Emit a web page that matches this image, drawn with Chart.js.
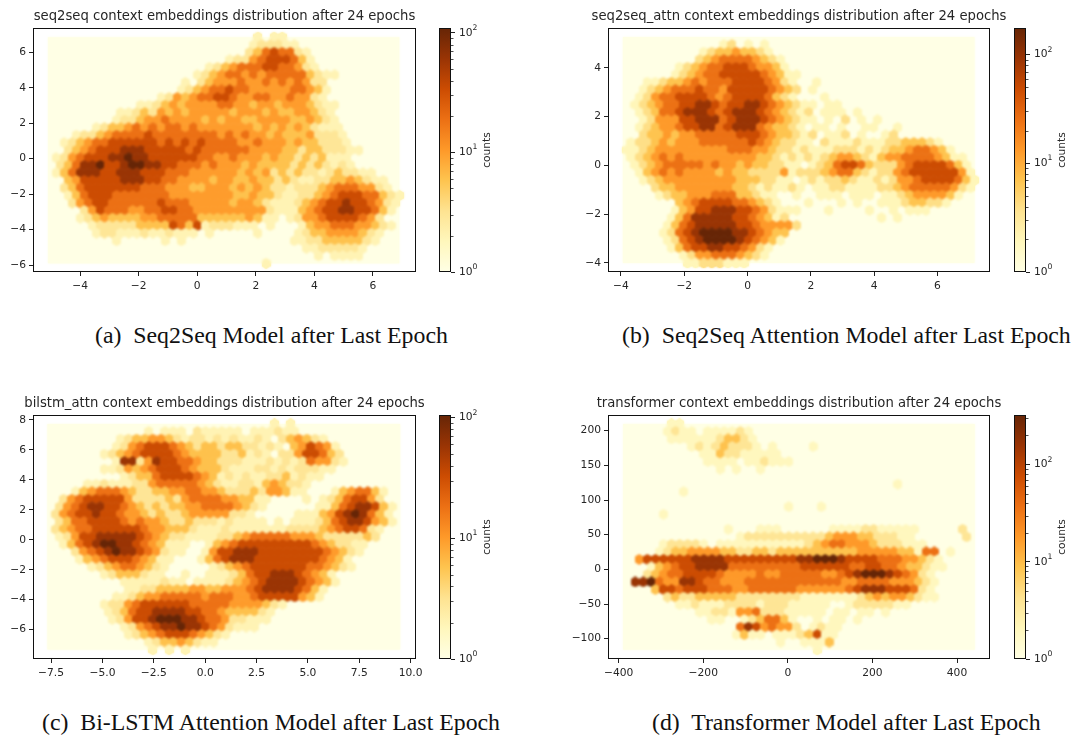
<!DOCTYPE html>
<html>
<head>
<meta charset="utf-8">
<title>context embeddings</title>
<script src="https://cdn.jsdelivr.net/npm/chart.js@4/dist/chart.umd.min.js"></script>
<style>
  body { margin: 0; background: #fff; width: 1074px; height: 735px; position: relative; overflow: hidden; }
  canvas { position: absolute; }
  .caption { position: absolute; font-family: 'Liberation Serif', serif; font-size: 23.8px; color: #111; white-space: pre; line-height: 24px; }
</style>
</head>
<body>
<canvas id="hexA" width="449" height="300" style="left:0;top:0"></canvas>
<canvas id="barA" width="70" height="300" style="left:429px;top:0"></canvas>
<canvas id="hexB" width="454" height="300" style="left:572px;top:0"></canvas>
<canvas id="barB" width="70" height="300" style="left:1004px;top:0"></canvas>
<canvas id="hexC" width="449" height="300" style="left:0;top:387px"></canvas>
<canvas id="barC" width="70" height="300" style="left:429px;top:387px"></canvas>
<canvas id="hexD" width="454" height="300" style="left:572px;top:387px"></canvas>
<canvas id="barD" width="70" height="300" style="left:1004px;top:387px"></canvas>
<div class="caption" style="left:95px;top:323px">(a)  Seq2Seq Model after Last Epoch</div>
<div class="caption" style="left:622px;top:323px">(b)  Seq2Seq Attention Model after Last Epoch</div>
<div class="caption" style="left:42px;top:710px">(c)  Bi-LSTM Attention Model after Last Epoch</div>
<div class="caption" style="left:652px;top:710px">(d)  Transformer Model after Last Epoch</div>
<script>
// odd rows sit half a cell to the right. 0 means an empty cell.
const seq2seqRows = [
  '0000000000 0000000000 0000001011 0000000000 0000',
  '0000000000 0000000000 0000012221 1000000000 0000',
  '0000000000 0000000000 0000023565 5210000000 0000',
  '0000000000 0000000000 0012245666 5310000000 0000',
  '0000000000 0000000000 1234555665 5421000000 0000',
  '0000000000 0000000012 3455454555 5532110000 0000',
  '0000000000 0000000102 3444544545 4542200000 0000',
  '0000000000 0000001234 5565544444 5543100000 0000',
  '0000000000 0000124345 5665445544 5442100000 0000',
  '0000000000 0112343444 4554434434 4432110000 0000',
  '0000000001 1232434344 4443444343 3443210000 0000',
  '0000000012 2344544443 4344334444 3343210000 0000',
  '0000001233 4545455454 4444443434 3432111000 0000',
  '0001223455 5565555555 5454544343 3342221000 0000',
  '0012345566 6666565656 5555445444 3433222100 0000',
  '0023456667 7766666565 5555544443 3233222110 0000',
  '0124566677 8776666665 5445444343 3232311100 0000',
  '0235778667 8877665554 5444343333 2323212100 0000',
  '0135777667 7766655544 4444343423 2322123221 1000',
  '0034666667 7766554444 3443343323 2112233432 1100',
  '0023566666 6655544433 4443434322 1222345554 4210',
  '0013566655 5555544444 4443343321 1223456665 5321',
  '0002456655 5555655544 4443443211 1234566766 5421',
  '0000246555 4455665544 4444444211 1345667766 5310',
  '0000123433 3344555553 3333343110 1244566665 4200',
  '0000012222 2333365361 2221110100 0134455544 3210',
  '0000001221 1121121110 1000001000 0123344443 2100',
  '0000000010 0000101000 0000000000 1122333332 1000',
  '0000000000 0000000000 0000000000 0011222221 0000',
  '0000000000 0000000000 0000000000 0001011110 0000',
  '0000000000 0000000000 0000000100 0000000000 0000'
]
const seq2seqAttnRows = [
  '0000000000 0000000000 0000000000 0000000000 0000',
  '0000000000 0012010100 0000000000 0000000000 0000',
  '0000000000 1233433210 0000000000 0000000000 0000',
  '0000000002 3455554321 0000000000 0000000000 0000',
  '0000000123 4556665443 1000000000 0000000000 0000',
  '0000001234 5566666543 1100000000 0000000000 0000',
  '0001123345 4555666654 2100100000 0000000000 0000',
  '0012345556 5546666654 3201000000 0000000000 0000',
  '0012455666 6545666653 2100010000 0000000000 0000',
  '0123455667 7656677654 3211011000 0000000000 0000',
  '0012355677 7656777654 3212011101 0000000000 0000',
  '0012444667 7756777654 3211010201 0100000000 0000',
  '0012344566 7756777543 3210110100 1100100000 0000',
  '0023343445 5555666543 3212011201 0012000000 0000',
  '0122343444 5555556543 2211021112 1112233321 0000',
  '1123444444 4445554432 2121112221 2123345543 1000',
  '0123454544 4444444332 1212123443 2134455554 3110',
  '0123455555 4544343322 1101235665 3222456666 5310',
  '0013454544 4434332222 4122234553 2122456666 6641',
  '0012344444 4444333221 1012122321 1212445666 6531',
  '0000233444 4444332121 1210112211 1122345555 5421',
  '0000123344 4555332110 0100111011 1011234444 3100',
  '0000000345 6666554321 0001000101 0011123322 1000',
  '0000001346 6777665421 1100010000 1001011100 0000',
  '0000001357 7777665431 2000000000 0010100000 0000',
  '0000013567 7777665444 4200000000 0000000000 0000',
  '0000012567 8888776543 3000000000 0000000000 0000',
  '0000012567 8888765431 0000000000 0000000000 0000',
  '0000001356 6776654210 0000000000 0000000000 0000',
  '0000000124 4555432100 0000000000 0000000000 0000',
  '0000000011 2221110000 0000000000 0000000000 0000'
]
const bilstmRows = [
  '0000000000 0000000000 0000000010 1000000000 0000',
  '0000000000 0010111021 1111011121 1000000000 0000',
  '0000000001 2334432122 1212112102 3432100000 0000',
  '0000000012 4566654323 3233221210 3465410000 0000',
  '0000000123 4566665433 3322312102 2466532000 0000',
  '0000000017 7247665543 3222111212 1254421000 0000',
  '0000000112 4345666543 3321112212 1222110000 0000',
  '0000000001 2335666654 3121211223 1211000000 0000',
  '0000011211 1224555554 3211221343 2210000000 0000',
  '0001345554 3223344554 4322232443 1100013455 3100',
  '0024566666 4222232455 5544331100 0010123566 4200',
  '0245677665 4323233445 5554321000 0001135677 6310',
  '0245667665 4432322344 4442210000 0111346787 5310',
  '0235566665 4544322322 2121111010 1112356776 4310',
  '0234556666 6654433321 1121111111 2222345665 2100',
  '0124667777 7654322111 1223455555 4443222223 2000',
  '0013567887 7654311100 1345666666 6665432211 0000',
  '0002456787 7654211001 4667776666 6666543210 0000',
  '0000134566 6543110001 3567776666 6666543100 0000',
  '0000012345 5432100000 1234566666 6655432100 0000',
  '0000000123 3321100100 1112356677 7654310000 0000',
  '0000000001 1111211011 1123456777 7654310000 0000',
  '0000000000 1122333344 3344456777 7653100000 0000',
  '0000000011 2344555554 5554456666 6431000000 0000',
  '0000000122 4566666655 5554444321 0000000000 0000',
  '0000000123 5667777665 5433332100 0000000000 0000',
  '0000000012 4667888776 5542211100 0000000000 0000',
  '0000000001 2456778776 5421110000 0000000000 0000',
  '0000000000 1234566654 3210000000 0000000000 0000',
  '0000000000 0012334321 1000000000 0000000000 0000',
  '0000000000 0001010100 0000000000 0000000000 0000'
]
const transformerRows = [
  '0000001100 0000000000 0000000000 0000000000 0000',
  '0000012110 1111210000 0000000000 0000000000 0000',
  '0000001111 1123321000 0000000000 0000000000 0000',
  '0000000012 1232221010 0001000000 0000000000 0000',
  '0000000000 1132211111 0000000000 0000000000 0000',
  '0000000000 1111011211 1000000000 0000000000 0000',
  '0000000000 0010100100 0000000000 0000000000 0000',
  '0000000000 0000000000 0000000000 0000000000 0000',
  '0000000000 0000000000 0000000000 0000100000 0000',
  '0000000100 0000000000 0000000000 0000000000 0000',
  '0000000000 0000000000 0000000000 0000000000 0000',
  '0000000000 0000000000 1000100000 0000000000 0000',
  '0000010000 0000000000 0000000000 0000000000 0000',
  '0000000000 0000000000 0000000000 0000000000 0000',
  '0000000000 0001000111 0000001111 2211111000 0020',
  '0000000000 0000122222 2222234443 3222110000 0020',
  '0000012222 1011111111 1112345544 4322211100 0000',
  '0000123344 4433223323 3333333334 4444331550 1000',
  '0046666667 7776666666 6677888766 6655544321 0000',
  '0001345667 7775555555 5566666655 6655433211 0000',
  '0002345566 6654444544 5555544567 8887654210 0000',
  '0778544776 5544455555 5555555445 5554443210 0000',
  '0000366566 6555445555 5544444456 7776665210 0000',
  '0000023223 3333222222 2211111112 3434432110 0000',
  '0000000112 1112222122 2111110012 2222110000 0000',
  '0000000001 1221445222 1111101101 1010000000 0000',
  '0000000000 0110012355 3100101101 0000000000 0000',
  '0000000000 0000576454 4201211000 0000000000 0000',
  '0000000000 0000131101 1123611000 0000000000 0000',
  '0000000000 0000000001 0011130000 0000000000 0000',
  '0000000000 0000000000 0000100000 0000000000 0000'
]

// counts for levels 0-8
const seq2seqCounts = [1, 2, 3, 6, 10, 19, 34, 61, 110]
const seq2seqAttnCounts = [1, 2, 4, 7, 13, 25, 48, 92, 176]
const bilstmCounts = [1, 2, 3, 6, 10, 18, 33, 58, 105]
const transformerCounts = [1, 2, 4, 9, 18, 37, 76, 158, 325]

const seq2seqXTicks = [-4, -2, 0, 2, 4, 6]
const seq2seqYTicks = [-6, -4, -2, 0, 2, 4, 6]
const seq2seqAttnXTicks = [-4, -2, 0, 2, 4, 6]
const seq2seqAttnYTicks = [-4, -2, 0, 2, 4]
const bilstmXTicks = [-7.5, -5, -2.5, 0, 2.5, 5, 7.5, 10]
const bilstmYTicks = [-6, -4, -2, 0, 2, 4, 6, 8]
const transformerXTicks = [-400, -200, 0, 200, 400]
const transformerYTicks = [-100, -50, 0, 50, 100, 150, 200]

const colorbarTicks = [1, 2, 3, 4, 5, 6, 7, 8, 9, 10, 20, 30, 40, 50, 60, 70, 80, 90, 100, 200, 300]
const exponents = { 1: '0', 10: '1', 100: '2' }

const ylOrBr = ['#ffffe5', '#fff7bc', '#fee391', '#fec44f', '#fe9929', '#ec7014', '#cc4c02', '#993404', '#662506']

const FONT = 'DejaVu Sans'
const INK = '#262626'
const TICK_SIZE = 10.7

const panels = [
  { hexId: 'hexA', barId: 'barA', plotLeft: 33, title: 'seq2seq context embeddings distribution after 24 epochs',
    rows: seq2seqRows, counts: seq2seqCounts, xTicks: seq2seqXTicks, yTicks: seq2seqYTicks, decimals: 0,
    xRange: [-5.61, 7.47], yRange: [-6.39, 7.37], fill: [-5.1, 6.9, -5.9, 6.85], vmax: 110 },
  { hexId: 'hexB', barId: 'barB', plotLeft: 36, title: 'seq2seq_attn context embeddings distribution after 24 epochs',
    rows: seq2seqAttnRows, counts: seq2seqAttnCounts, xTicks: seq2seqAttnXTicks, yTicks: seq2seqAttnYTicks, decimals: 0,
    xRange: [-4.41, 7.66], yRange: [-4.37, 5.63], fill: [-3.94, 7.17, -4, 5.26], vmax: 176 },
  { hexId: 'hexC', barId: 'barC', plotLeft: 33, title: 'bilstm_attn context embeddings distribution after 24 epochs',
    rows: bilstmRows, counts: bilstmCounts, xTicks: bilstmXTicks, yTicks: bilstmYTicks, decimals: 1, yDecimals: 0,
    xRange: [-8.38, 10.26], yRange: [-7.96, 8.33], fill: [-7.68, 9.49, -7.33, 7.73], vmax: 105 },
  { hexId: 'hexD', barId: 'barD', plotLeft: 36, title: 'transformer context embeddings distribution after 24 epochs',
    rows: transformerRows, counts: transformerCounts, xTicks: transformerXTicks, yTicks: transformerYTicks, decimals: 0,
    xRange: [-425.3, 478], yRange: [-129.3, 222.6], fill: [-389.8, 441.9, -115.9, 209.7], vmax: 325 }
]

function hexToRgb(hex) {
  return [1, 3, 5].map((i) => parseInt(hex.slice(i, i + 2), 16))
}

function colorFor(fraction) {
  const pos = Math.min(Math.max(fraction, 0), 1) * (ylOrBr.length - 1)
  const low = Math.floor(pos)
  const high = Math.min(low + 1, ylOrBr.length - 1)
  const a = hexToRgb(ylOrBr[low])
  const b = hexToRgb(ylOrBr[high])
  const mix = a.map((v, i) => Math.round(v + (b[i] - v) * (pos - low)))
  return `rgb(${mix.join(',')})`
}

// pointStyle accepts a canvas, so each colour gets a small hexagon sprite
const sprites = {}
function hexSprite(color) {
  if (sprites[color]) return sprites[color]
  const c = document.createElement('canvas')
  c.width = 9
  c.height = 11
  const g = c.getContext('2d')
  g.fillStyle = color
  g.beginPath()
  g.moveTo(4.5, 0)
  g.lineTo(9, 2.75)
  g.lineTo(9, 8.25)
  g.lineTo(4.5, 11)
  g.lineTo(0, 8.25)
  g.lineTo(0, 2.75)
  g.closePath()
  g.fill()
  sprites[color] = c
  return c
}

function cellsFrom(panel) {
  const [left, right, bottom, top] = panel.fill
  const grid = panel.rows.map((row) => row.replace(/ /g, ''))
  const cols = grid[0].length
  const stepX = (right - left) / (cols - 0.5)
  const stepY = (top - bottom) / (grid.length - 1)
  const cells = []
  grid.forEach((row, r) => {
    for (let c = 0; c < row.length; c++) {
      const level = Number(row[c])
      if (level === 0) continue
      cells.push({
        x: left + (c + (r % 2 ? 0.5 : 0)) * stepX,
        y: top - r * stepY,
        count: panel.counts[level]
      })
    }
  })
  return cells
}

function tickText(value, decimals) {
  return value.toFixed(decimals).replace('-', '\u2212')
}

const framePlugin = {
  id: 'frame',
  afterDraw(chart) {
    const { left, top, width, height } = chart.chartArea
    const ctx = chart.ctx
    ctx.save()
    ctx.strokeStyle = '#111'
    ctx.lineWidth = 1
    ctx.strokeRect(left + 0.5, top + 0.5, width - 1, height - 1)
    ctx.restore()
  }
}

// the empty cells make one pale block behind the hexagons
const fillPlugin = {
  id: 'emptyCells',
  beforeDatasetsDraw(chart, args, opts) {
    const { x, y } = chart.scales
    const [left, right, bottom, top] = opts.bounds
    const ctx = chart.ctx
    ctx.save()
    ctx.fillStyle = ylOrBr[0]
    ctx.fillRect(x.getPixelForValue(left), y.getPixelForValue(top),
      x.getPixelForValue(right) - x.getPixelForValue(left),
      y.getPixelForValue(bottom) - y.getPixelForValue(top))
    ctx.restore()
  },
  // soften the cells, they are coarser than the original hexbin
  afterDatasetsDraw(chart) {
    const { left, top, width, height } = chart.chartArea
    const ctx = chart.ctx
    ctx.save()
    ctx.beginPath()
    ctx.rect(left, top, width, height)
    ctx.clip()
    ctx.filter = 'blur(1.2px)'
    ctx.drawImage(chart.canvas, 0, 0)
    ctx.restore()
  }
}

const colorbarPlugin = {
  id: 'colorbarExtras',
  afterDraw(chart) {
    const scale = chart.scales.y
    const ctx = chart.ctx
    const right = chart.chartArea.right
    ctx.save()
    ctx.strokeStyle = '#222'
    ctx.lineWidth = 0.8
    ctx.fillStyle = INK
    ctx.textAlign = 'left'
    ctx.textBaseline = 'middle'
    scale.ticks.forEach((tick) => {
      const py = Math.round(scale.getPixelForValue(tick.value)) + 0.5
      const exponent = exponents[tick.value]
      if (exponent) {
        ctx.font = `${TICK_SIZE}px "${FONT}"`
        const base = ctx.measureText('10').width
        ctx.font = `${TICK_SIZE * 0.72}px "${FONT}"`
        ctx.fillText(exponent, right + 8 + base, py - 5)
        return
      }
      ctx.beginPath()
      ctx.moveTo(right, py)
      ctx.lineTo(right + 2.5, py)
      ctx.stroke()
    })
    ctx.translate(right + 36.5, (chart.chartArea.top + chart.chartArea.bottom) / 2)
    ctx.rotate(-Math.PI / 2)
    ctx.font = `${TICK_SIZE}px "${FONT}"`
    ctx.textAlign = 'center'
    ctx.fillText('counts', 0, 0)
    ctx.restore()
  }
}

function drawHexChart(panel) {
  const logMax = Math.log(panel.vmax)
  new Chart(document.getElementById(panel.hexId), {
    type: 'scatter',
    data: {
      datasets: [{
        data: cellsFrom(panel),
        showLine: false,
        pointRadius: 4,
        pointStyle: (ctx) => hexSprite(colorFor(Math.log(ctx.raw.count) / logMax))
      }]
    },
    plugins: [fillPlugin, framePlugin],
    options: {
      responsive: false,
      animation: false,
      events: [],
      layout: { padding: { top: 9 } },
      plugins: {
        legend: { display: false },
        tooltip: { enabled: false },
        emptyCells: { bounds: panel.fill },
        title: {
          display: true,
          text: panel.title,
          color: INK,
          font: { family: FONT, size: 13.2, weight: 'normal', lineHeight: '16px' },
          padding: { top: 0, bottom: 3 }
        }
      },
      scales: {
        x: {
          type: 'linear',
          min: panel.xRange[0],
          max: panel.xRange[1],
          afterFit: (s) => { s.height = 28 },
          afterBuildTicks: (s) => { s.ticks = panel.xTicks.map((value) => ({ value })) },
          border: { display: false },
          grid: { drawOnChartArea: false, tickLength: 4, tickColor: '#222' },
          ticks: {
            color: INK,
            font: { family: FONT, size: TICK_SIZE },
            padding: 4,
            maxRotation: 0,
            autoSkip: false,
            callback: (v) => tickText(v, panel.decimals)
          }
        },
        y: {
          type: 'linear',
          min: panel.yRange[0],
          max: panel.yRange[1],
          afterFit: (s) => { s.width = panel.plotLeft },
          afterBuildTicks: (s) => { s.ticks = panel.yTicks.map((value) => ({ value })) },
          border: { display: false },
          grid: { drawOnChartArea: false, tickLength: 4, tickColor: '#222' },
          ticks: {
            color: INK,
            font: { family: FONT, size: TICK_SIZE },
            padding: 3,
            autoSkip: false,
            callback: (v) => tickText(v, panel.yDecimals ?? panel.decimals)
          }
        },
        // empty axis on the right, keeps the title centred over the plot
        titleSpacer: {
          type: 'linear',
          position: 'right',
          afterFit: (s) => { s.width = panel.plotLeft },
          border: { display: false },
          grid: { display: false },
          ticks: { display: false }
        }
      }
    }
  })
}

function drawColorbar(panel) {
  new Chart(document.getElementById(panel.barId), {
    type: 'bar',
    data: {
      labels: ['counts'],
      datasets: [{
        data: [[1, panel.vmax]],
        barPercentage: 1,
        categoryPercentage: 1,
        borderWidth: 0,
        backgroundColor: (ctx) => {
          const area = ctx.chart.chartArea
          if (!area) return ylOrBr[0]
          const gradient = ctx.chart.ctx.createLinearGradient(0, area.bottom, 0, area.top)
          ylOrBr.forEach((color, i) => gradient.addColorStop(i / (ylOrBr.length - 1), color))
          return gradient
        }
      }]
    },
    plugins: [framePlugin, colorbarPlugin],
    options: {
      responsive: false,
      animation: false,
      events: [],
      layout: { padding: { top: 28, bottom: 28, left: 10 } },
      plugins: { legend: { display: false }, tooltip: { enabled: false } },
      scales: {
        x: { type: 'category', display: false },
        y: {
          type: 'logarithmic',
          position: 'right',
          min: 1,
          max: panel.vmax,
          afterFit: (s) => { s.width = 48 },
          afterBuildTicks: (s) => { s.ticks = colorbarTicks.filter((v) => v <= panel.vmax).map((value) => ({ value })) },
          border: { display: false },
          grid: {
            drawOnChartArea: false,
            tickLength: 4,
            tickColor: (ctx) => (ctx.tick && exponents[ctx.tick.value] ? '#222' : 'transparent')
          },
          ticks: {
            color: INK,
            font: { family: FONT, size: TICK_SIZE },
            padding: 4,
            autoSkip: false,
            callback: (v) => (exponents[v] ? '10' : '')
          }
        }
      }
    }
  })
}

panels.forEach((panel) => {
  drawHexChart(panel)
  drawColorbar(panel)
})
</script>
</body>
</html>
